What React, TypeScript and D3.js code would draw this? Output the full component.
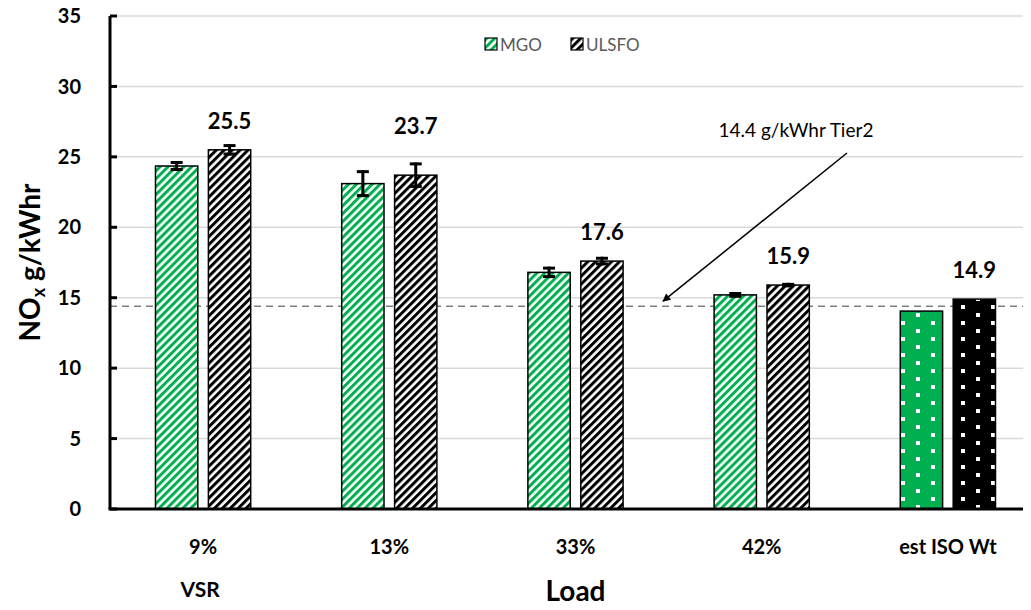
import React, { useEffect, useRef } from 'react'
import * as d3 from 'd3'

// Data
const categories = ['9%', '13%', '33%', '42%', 'est ISO Wt']
const seriesNames = ['MGO', 'ULSFO']
const mgoValues = [24.35, 23.1, 16.8, 15.2, 14.05]
const ulsfoValues = [25.5, 23.7, 17.6, 15.9, 14.9]
const mgoErrors = [0.25, 0.85, 0.3, 0.1, 0]
const ulsfoErrors = [0.3, 0.8, 0.2, 0.05, 0]
const ulsfoLabels = ['25.5', '23.7', '17.6', '15.9', '14.9']
const yTicks = [0, 5, 10, 15, 20, 25, 30, 35]
const tierLimit = 14.4
const tierText = '14.4 g/kWhr Tier2'

const WIDTH = 1031
const HEIGHT = 610
const left = 110
const right = 1041
const top = 16
const bottom = 509
const GREEN = '#00b050'
const FONT = 'Lato, "Open Sans", sans-serif'

const App = () => {
    const svgRef = useRef(null)

    useEffect(() => {
        const svg = d3.select(svgRef.current)
        svg.selectAll('*').remove()

        // Patterns
        const defs = svg.append('defs')
        const hatch = (id, color) => {
            const p = defs.append('pattern')
                .attr('id', id)
                .attr('patternUnits', 'userSpaceOnUse')
                .attr('width', 5.6)
                .attr('height', 5.6)
                .attr('patternTransform', 'rotate(45)')
            p.append('rect').attr('width', 5.6).attr('height', 5.6).attr('fill', '#fff')
            p.append('rect').attr('width', 3).attr('height', 5.6).attr('fill', color)
        }
        hatch('hatch-mgo', GREEN)
        hatch('hatch-ulsfo', '#000')

        const dots = (id, color) => {
            const p = defs.append('pattern')
                .attr('id', id)
                .attr('patternUnits', 'userSpaceOnUse')
                .attr('x', 1)
                .attr('y', 1)
                .attr('width', 30)
                .attr('height', 16)
            p.append('rect').attr('width', 30).attr('height', 16).attr('fill', color)
            p.append('rect').attr('x', 0).attr('y', 0).attr('width', 4).attr('height', 4).attr('fill', '#fff')
            p.append('rect').attr('x', 15).attr('y', 8).attr('width', 4).attr('height', 4).attr('fill', '#fff')
        }
        dots('dots-mgo', GREEN)
        dots('dots-ulsfo', '#000')

        // Scales
        const x = d3.scaleBand().domain(categories).range([left, right])
        const xSub = d3.scaleBand().domain(seriesNames)
            .range([0, x.bandwidth()])
            .paddingInner(0.2)
            .paddingOuter(0.86)
        const y = d3.scaleLinear().domain([0, 35]).range([bottom, top])

        // Gridlines
        svg.append('g')
            .selectAll('line')
            .data(yTicks.filter(t => t > 0))
            .join('line')
            .attr('x1', left)
            .attr('x2', right)
            .attr('y1', d => y(d))
            .attr('y2', d => y(d))
            .attr('stroke', '#d9d9d9')
            .attr('stroke-width', 1.5)

        // Tier line
        svg.append('line')
            .attr('x1', left)
            .attr('x2', right)
            .attr('y1', y(tierLimit))
            .attr('y2', y(tierLimit))
            .attr('stroke', '#7f7f7f')
            .attr('stroke-width', 1.5)
            .attr('stroke-dasharray', '7,5')

        // Bars
        const rows = categories.map((c, i) => ([
            { cat: c, key: 'MGO', v: mgoValues[i], e: mgoErrors[i], iso: c === 'est ISO Wt' },
            { cat: c, key: 'ULSFO', v: ulsfoValues[i], e: ulsfoErrors[i], iso: c === 'est ISO Wt' },
        ])).flat()

        const fillFor = d => {
            if (d.iso) return d.key === 'MGO' ? 'url(#dots-mgo)' : 'url(#dots-ulsfo)'
            return d.key === 'MGO' ? 'url(#hatch-mgo)' : 'url(#hatch-ulsfo)'
        }

        svg.append('g')
            .selectAll('rect')
            .data(rows)
            .join('rect')
            .attr('x', d => x(d.cat) + xSub(d.key))
            .attr('y', d => y(d.v))
            .attr('width', xSub.bandwidth())
            .attr('height', d => y(0) - y(d.v))
            .attr('fill', fillFor)
            .attr('stroke', '#000')
            .attr('stroke-width', 1.5)

        // Error bars
        const errs = rows.filter(d => d.e > 0)
        const eg = svg.append('g').attr('stroke', '#000').attr('stroke-width', 3)
        const cx = d => x(d.cat) + xSub(d.key) + xSub.bandwidth() / 2
        eg.selectAll('.stem')
            .data(errs)
            .join('line')
            .attr('class', 'stem')
            .attr('x1', cx).attr('x2', cx)
            .attr('y1', d => y(d.v + d.e) - 1.5)
            .attr('y2', d => y(d.v - d.e) + 1.5)
        eg.selectAll('.capTop')
            .data(errs)
            .join('line')
            .attr('class', 'capTop')
            .attr('x1', d => cx(d) - 6).attr('x2', d => cx(d) + 6)
            .attr('y1', d => y(d.v + d.e)).attr('y2', d => y(d.v + d.e))
        eg.selectAll('.capBot')
            .data(errs)
            .join('line')
            .attr('class', 'capBot')
            .attr('x1', d => cx(d) - 6).attr('x2', d => cx(d) + 6)
            .attr('y1', d => y(d.v - d.e)).attr('y2', d => y(d.v - d.e))

        // Value labels over ULSFO bars (13% one was moved up above the error bar)
        const labelNudge = { '13%': 20 }
        svg.append('g')
            .selectAll('text')
            .data(categories)
            .join('text')
            .attr('x', c => x(c) + xSub('ULSFO') + xSub.bandwidth() / 2)
            .attr('y', (c, i) => y(ulsfoValues[i]) - 21 - (labelNudge[c] || 0))
            .attr('text-anchor', 'middle')
            .attr('font-family', FONT)
            .attr('font-weight', 'bold')
            .attr('font-size', 22)
            .text((c, i) => ulsfoLabels[i])

        // Axes
        svg.append('line')
            .attr('x1', left).attr('x2', left)
            .attr('y1', top).attr('y2', bottom)
            .attr('stroke', '#000').attr('stroke-width', 3)
        svg.append('line')
            .attr('x1', left - 1.5).attr('x2', right)
            .attr('y1', bottom).attr('y2', bottom)
            .attr('stroke', '#000').attr('stroke-width', 3)
        svg.append('g')
            .selectAll('line')
            .data(yTicks)
            .join('line')
            .attr('x1', left).attr('x2', left + 7)
            .attr('y1', d => y(d)).attr('y2', d => y(d))
            .attr('stroke', '#000').attr('stroke-width', 3)

        svg.append('g')
            .selectAll('text')
            .data(yTicks)
            .join('text')
            .attr('x', 81)
            .attr('y', d => y(d))
            .attr('dy', '0.36em')
            .attr('text-anchor', 'end')
            .attr('font-family', FONT)
            .attr('font-weight', 'bold')
            .attr('font-size', 20)
            .text(d => d)

        svg.append('g')
            .selectAll('text')
            .data(categories)
            .join('text')
            .attr('x', c => x(c) + x.bandwidth() / 2)
            .attr('y', 554)
            .attr('text-anchor', 'middle')
            .attr('font-family', FONT)
            .attr('font-weight', 'bold')
            .attr('font-size', 20)
            .text(c => c)

        svg.append('text')
            .attr('x', x('9%') + x.bandwidth() / 2 - 3)
            .attr('y', 597)
            .attr('text-anchor', 'middle')
            .attr('font-family', FONT)
            .attr('font-weight', 'bold')
            .attr('font-size', 21)
            .text('VSR')

        svg.append('text')
            .attr('x', x('33%') + x.bandwidth() / 2)
            .attr('y', 601)
            .attr('text-anchor', 'middle')
            .attr('font-family', FONT)
            .attr('font-weight', 'bold')
            .attr('font-size', 28)
            .text('Load')

        // Y title
        const yt = svg.append('text')
            .attr('transform', `translate(40,${(top + bottom) / 2}) rotate(-90)`)
            .attr('text-anchor', 'middle')
            .attr('font-family', FONT)
            .attr('font-weight', 'bold')
            .attr('font-size', 28)
        yt.append('tspan').text('NO')
        yt.append('tspan').attr('font-size', 18).attr('dy', 5).text('x')
        yt.append('tspan').attr('dy', -5).text(' g/kWhr')

        // Annotation arrow
        defs.append('marker')
            .attr('id', 'arrow')
            .attr('viewBox', '0 0 10 10')
            .attr('refX', 9)
            .attr('refY', 5)
            .attr('markerWidth', 10)
            .attr('markerHeight', 8)
            .attr('markerUnits', 'userSpaceOnUse')
            .attr('orient', 'auto')
            .append('path')
            .attr('d', 'M0,0 L10,5 L0,10 Z')
            .attr('fill', '#000')
        svg.append('line')
            .attr('x1', 847).attr('y1', 153)
            .attr('x2', 663).attr('y2', y(tierLimit) - 5)
            .attr('stroke', '#000')
            .attr('stroke-width', 1.5)
            .attr('marker-end', 'url(#arrow)')
        svg.append('text')
            .attr('x', 796)
            .attr('y', 137)
            .attr('text-anchor', 'middle')
            .attr('font-family', FONT)
            .attr('font-size', 19)
            .text(tierText)

        // Legend
        const legend = svg.append('g').attr('transform', 'translate(485,38)')
        const items = [
            { name: 'MGO', fill: 'url(#hatch-mgo)', dx: 0 },
            { name: 'ULSFO', fill: 'url(#hatch-ulsfo)', dx: 86 },
        ]
        const li = legend.selectAll('g').data(items).join('g')
            .attr('transform', d => `translate(${d.dx},0)`)
        li.append('rect')
            .attr('width', 12).attr('height', 12)
            .attr('fill', d => d.fill)
            .attr('stroke', '#000').attr('stroke-width', 1.2)
        li.append('text')
            .attr('x', 15).attr('y', 7)
            .attr('dy', '0.36em')
            .attr('font-family', FONT)
            .attr('font-size', 17)
            .attr('fill', '#595959')
            .text(d => d.name)
    }, [])

    return (
        <svg ref={svgRef} width={WIDTH} height={HEIGHT} style={{ display: 'block', margin: '-8px' }} />
    )
}

export default App
